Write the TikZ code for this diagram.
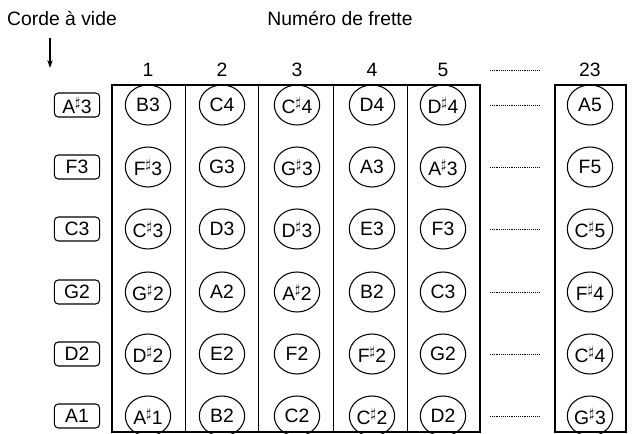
\documentclass[tikz,border=0pt]{standalone}
\usepackage{fontspec}
\setmainfont{Liberation Sans}
\usetikzlibrary{arrows.meta,shapes.geometric}
\begin{document}
\begin{tikzpicture}[x=0.75pt,y=-0.75pt,font=\fontsize{14.5}{17}\selectfont,
 note/.style={ellipse,draw,thick,minimum width=34pt,minimum height=30pt,inner sep=0pt},
 open/.style={rectangle,rounded corners=3pt,draw,thick,minimum width=34pt,minimum height=18pt,inner sep=1pt},
 gap/.style={densely dotted,thin}]
\useasboundingbox (0,0) rectangle (637,434);
\newcommand{\sh}{$^{\sharp}$}
\node (t1) at (62,18) {Corde à vide};
\node (t2) at (340,18) {Numéro de frette};
\coordinate (a0) at (50,38);
\coordinate (a1) at (50,68);
\draw[thick,-{Stealth[length=6pt,width=4pt]}] (a0) -- (a1);
\draw[thick] (112,85) rectangle (480,432);
\foreach \x in {185,258,333,407} \draw (\x,85) -- (\x,432);
\draw[thick] (555,85) rectangle (626,432);
\foreach \x/\l in {148/1,222/2,297/3,372/4,443/5,590/23} \node (h\l) at (\x,70) {\l};
\draw[gap] (490,70) -- (540,70);
\foreach \y/\o/\a/\b/\c/\d/\e/\z [count=\i] in {
 105/A\sh3/B3/C4/C\sh4/D4/D\sh4/A5,
 167/F3/F\sh3/G3/G\sh3/A3/A\sh3/F5,
 229/C3/C\sh3/D3/D\sh3/E3/F3/C\sh5,
 292/G2/G\sh2/A2/A\sh2/B2/C3/F\sh4,
 354/D2/D\sh2/E2/F2/F\sh2/G2/C\sh4,
 416/A1/A\sh1/B2/C2/C\sh2/D2/G\sh3} {
 \node[open] (o\i) at (77,\y) {\o};
 \node[note] (n1\i) at (148,\y) {\a};
 \node[note] (n2\i) at (222,\y) {\b};
 \node[note] (n3\i) at (297,\y) {\c};
 \node[note] (n4\i) at (372,\y) {\d};
 \node[note] (n5\i) at (443,\y) {\e};
 \node[note] (n23\i) at (590,\y) {\z};
 \draw[gap] (490,\y) -- (540,\y);
}
\end{tikzpicture}
\end{document}
